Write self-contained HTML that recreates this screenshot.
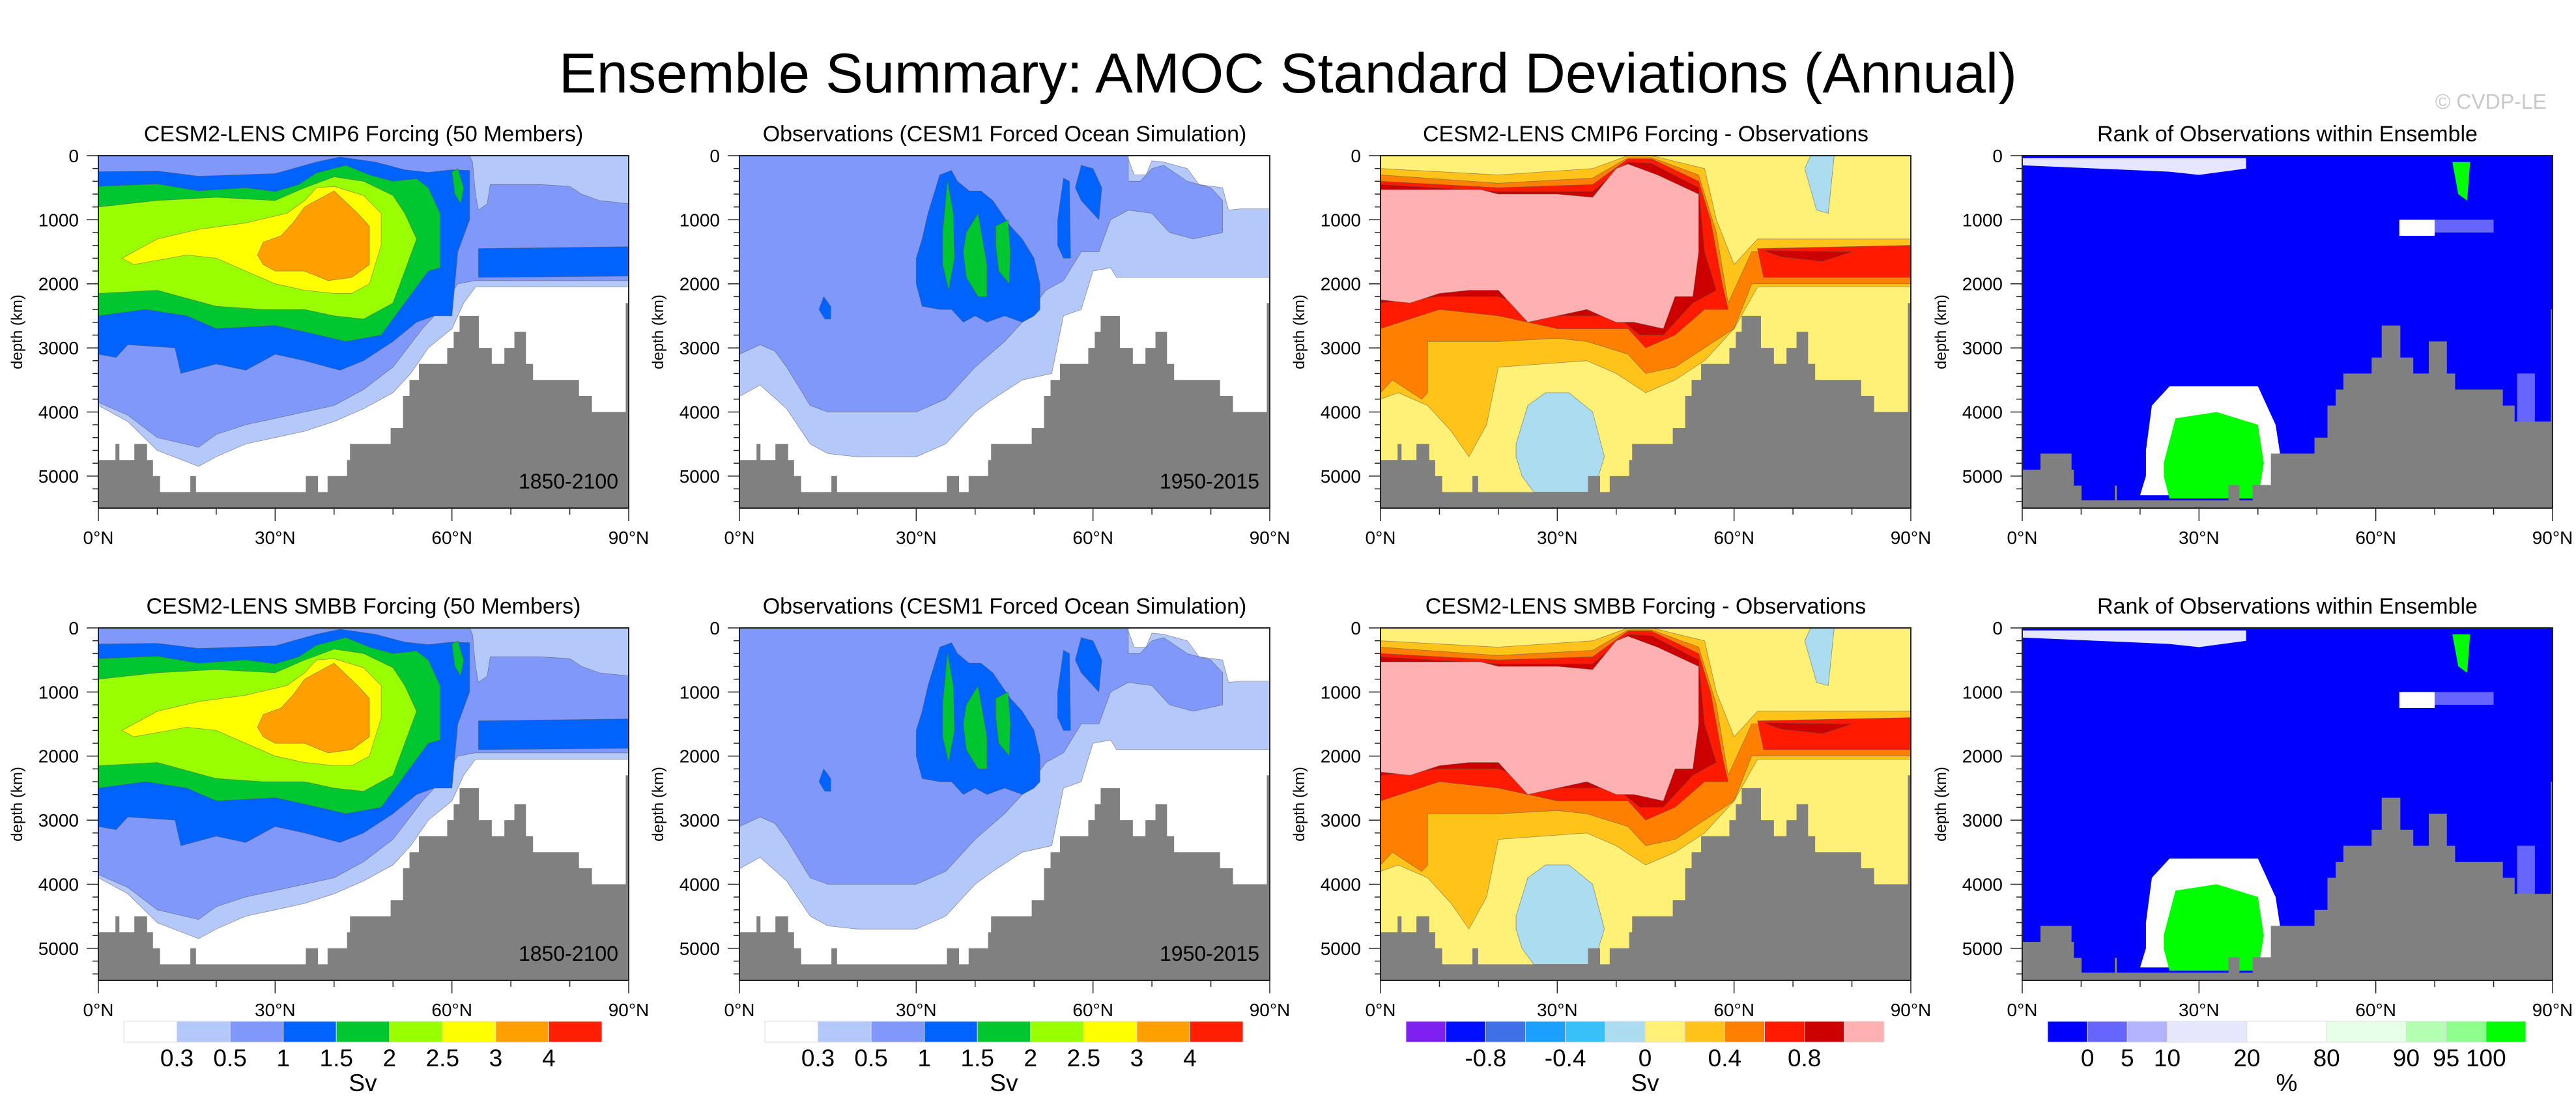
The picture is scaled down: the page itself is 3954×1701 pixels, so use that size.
<!DOCTYPE html>
<html><head><meta charset="utf-8"><title>Ensemble Summary: AMOC Standard Deviations (Annual)</title>
<style>
html,body{margin:0;padding:0;background:#fff;}
svg{display:block;font-family:"Liberation Sans",Arial,sans-serif;}
</style></head>
<body>
<svg id="fig" width="3954" height="1701" viewBox="0 0 3954 1701" xmlns="http://www.w3.org/2000/svg">
<rect x="0" y="0" width="3954" height="1701" fill="#fff"/>
<text x="1977" y="142" font-size="86" text-anchor="middle" textLength="2238" lengthAdjust="spacingAndGlyphs">Ensemble Summary: AMOC Standard Deviations (Annual)</text>
<text x="3909" y="167" font-size="32" text-anchor="end" fill="#c8c8c8">© CVDP-LE</text>
</svg>
<script>
// ---------------- data ----------------
const panelTitles = [
  ["CESM2-LENS CMIP6 Forcing (50 Members)","Observations (CESM1 Forced Ocean Simulation)","CESM2-LENS CMIP6 Forcing - Observations","Rank of Observations within Ensemble"],
  ["CESM2-LENS SMBB Forcing (50 Members)","Observations (CESM1 Forced Ocean Simulation)","CESM2-LENS SMBB Forcing - Observations","Rank of Observations within Ensemble"]
];
const periodLabels = ["1850-2100","1950-2015","",""];
const depthTicks = [0,1000,2000,3000,4000,5000];
const latTicks = [0,30,60,90];
const latTickLabels = ["0°N","30°N","60°N","90°N"];

// bathymetry (lat edges, depth per segment) for model/obs grid
const bathEdges = [0,2.9,3.5,6.1,8.2,9.2,10.4,15.6,16.5,35.2,37.2,38.9,42.2,42.7,49.6,51.7,52.8,54.4,59.2,60.3,61.3,64.5,66.7,68.9,70.6,72.5,73.7,81.5,83.7,89.5,90];
const bathDepths = [4750,4500,4750,4500,4750,5000,5250,5000,5250,5000,5250,5000,4750,4500,4250,3750,3500,3250,3000,2750,2500,3000,3250,3000,2750,3250,3500,3750,4000,2300];
// bathymetry for rank panel grid
const bathEdgesRank = [0,3.1,8.3,8.7,10.0,15.7,16.0,35.0,36.8,39.1,42.2,49.6,51.8,53.2,54.5,59.3,61.0,64.1,66.3,69.0,72.0,73.4,81.5,83.5,89.7,90];
const bathDepthsRank = [4900,4650,4900,5150,5380,5150,5380,5140,5380,5140,4650,4400,3900,3650,3400,3150,2650,3150,3400,2900,3400,3650,3900,4150,2400];

// contour regions [lat, depth]
const p1LightBlue = [[0,0],[90,0],[90,2050],[64,2050],[62,2300],[60,2700],[56,3000],[53,3400],[50,3700],[45,3950],[40,4150],[35,4300],[30,4400],[25,4500],[20,4700],[17,4850],[10,4600],[5,4150],[0,3900]];
const p1MedBlue = [[0,0],[63,0],[63.5,100],[64,600],[64.5,850],[66,750],[66.5,450],[75,450],[80,480],[82,600],[85,700],[90,750],[90,1950],[64,1950],[61,2000],[58,2400],[55,2700],[50,3300],[45,3650],[40,3900],[30,4100],[25,4200],[20,4350],[17,4550],[10,4400],[5,4050],[0,3850]];
const p1DarkBand = [[64.5,1450],[90,1420],[90,1880],[64.5,1900]];
const p1DarkBlue = [[0,250],[10,240],[17,320],[30,280],[37,100],[41,20],[47,100],[52,220],[56,260],[60,220],[63,230],[63,1000],[61,1500],[60,2500],[57,2500],[54,2600],[50,2900],[45,3200],[41,3350],[35,3200],[30,3100],[25,3350],[20,3250],[14,3400],[13,3000],[5,2950],[3,3150],[0,3100]];
const p1Green = [[0,480],[10,440],[17,550],[25,500],[30,560],[34,450],[37,270],[42,150],[46,300],[50,400],[54,360],[56,500],[58,900],[58,1750],[56,1800],[52,2300],[48,2800],[42,2900],[35,2750],[30,2650],[20,2700],[15,2500],[8,2400],[0,2500]];
const p1GreenBlob = [[60,250],[61,200],[62,500],[61.5,750],[60.5,600]];
const p1LightGreen = [[0,800],[10,700],[20,650],[30,700],[35,500],[38,400],[40,330],[45,400],[50,620],[52,900],[54,1300],[52,1800],[50,2300],[45,2550],[40,2500],[35,2400],[28,2400],[20,2350],[10,2100],[0,2150]];
const p1Yellow = [[4,1600],[10,1300],[17,1150],[25,1050],[32,900],[35,700],[37,500],[40,480],[45,620],[48,900],[48,1400],[46,2000],[43,2150],[40,2150],[35,2100],[30,2000],[25,1800],[20,1600],[15,1550],[6,1700]];
const p1Orange = [[27,1550],[28,1350],[31,1250],[33,1050],[35,800],[37,700],[40,550],[44,900],[46,1100],[46,1700],[43,1900],[39,1950],[35,1800],[30,1800],[28,1700]];

const p2LightBlue = [[0,0],[65,0],[66,50],[67,300],[69,300],[70,80],[72,100],[76,200],[78,450],[82,500],[83,850],[85,830],[90,830],[90,1900],[64,1900],[63,1750],[60,1800],[58,2400],[55,2500],[53,3400],[48,3500],[43,3800],[40,4000],[35,4500],[30,4700],[20,4700],[15,4650],[12,4500],[8,3950],[3.5,3580],[0,3760]];
const p2MedBlue = [[0,0],[66,0],[66,400],[68,400],[70,200],[72,150],[76,400],[80,500],[82,700],[82,1200],[77,1300],[73,1200],[70,900],[66,850],[63,1000],[61,1500],[58,1500],[55,1950],[52,2100],[48,2600],[45,2900],[40,3300],[35,3800],[30,4000],[15,4000],[12,3900],[8,3300],[6,3050],[3.5,2950],[0,3100]];
const p2DarkBlob = [[30,1600],[31,1300],[32,900],[34,300],[36,230],[37,400],[39,550],[41,550],[43,700],[46,1100],[48,1300],[50,1600],[51,2000],[51,2400],[50,2500],[48,2600],[45,2500],[42,2600],[40,2500],[38,2600],[36,2400],[34,2400],[31,2350],[30,2000]];
const p2DarkBlob2 = [[54,1000],[55,350],[56,400],[56.2,1600],[55,1600],[54,1400]];
const p2DarkBlob3 = [[57,500],[58,150],[60,200],[61.5,500],[61,1000],[60,900],[58,700]];
const p2DarkBlob4 = [[13.5,2400],[14.3,2200],[15.5,2350],[15.5,2550],[14.5,2550]];
const p2Green1 = [[34.5,1200],[35.3,380],[36.3,900],[36.5,1600],[35.5,2100],[34.5,1700]];
const p2Green2 = [[38.5,1200],[40.5,900],[42,1700],[42,2200],[40.5,2200],[38.5,1900],[38,1500]];
const p2Green3 = [[43.5,1100],[45.6,1000],[46,1500],[45.8,2000],[44,1800],[43.5,1400]];

const p3LightOrange = [[0,200],[20,300],[36,200],[42,0],[46,0],[55,200],[57,1000],[60,1700],[64,1300],[90,1300],[90,2050],[64,2050],[60,2700],[55,3200],[50,3500],[45,3700],[40,3400],[35,3200],[20,3300],[18,4200],[15,4700],[12,4300],[8,3900],[3,3700],[0,3800]];
const p3Orange = [[0,300],[20,430],[36,350],[42,30],[46,30],[54,300],[57,1200],[59,2300],[63,1500],[90,1400],[90,2000],[63,2000],[60,2700],[55,3000],[50,3300],[45,3400],[42,3100],[35,2900],[30,2850],[20,2900],[8,2900],[8,3700],[7,3800],[2,3500],[0,3700]];
const p3Red = [[0,400],[20,500],[36,450],[42,50],[46,50],[54,400],[56,1000],[58,2000],[59,2400],[55,2400],[50,2800],[45,3000],[42,2700],[30,2700],[20,2500],[10,2400],[0,2700]];
const p3RedBand = [[64,1450],[90,1400],[90,1900],[65,1900]];
const p3DarkRed = [[0,450],[20,560],[36,560],[42,100],[46,120],[54,500],[55,1500],[57,2100],[53,2300],[48,2800],[44,2800],[40,2500],[30,2500],[20,2200],[10,2200],[0,2300]];
const p3DarkRedBand = [[65,1480],[80,1500],[75,1650],[68,1580]];
const p3Pink = [[0,530],[17,530],[20,600],[30,600],[36,650],[40,200],[42,130],[47,300],[54,600],[54,1500],[53,2200],[50,2200],[48,2700],[43,2600],[40,2600],[35,2400],[25,2600],[20,2100],[15,2100],[10,2150],[5,2300],[0,2250]];
const p3BlueBlob = [[23,4500],[25,3900],[28,3700],[32,3700],[36,4000],[38,4700],[37,5000],[36,5250],[26,5250],[24,5000],[23,4700]];
const p3BlueTop = [[73,0],[77,0],[76,900],[74,850],[72,200]];

const p4Lavender = [[0,40],[38,40],[38,200],[30,300],[25,250],[0,150]];
const p4WhiteBlob = [[21,4600],[22,3900],[25,3600],[40,3600],[43,4200],[44,4800],[42,5300],[20,5300],[21,5000]];
const p4GreenBlob = [[24,4800],[26,4100],[33,4000],[40,4200],[41,4800],[40,5350],[25,5350],[24,5000]];
const p4WhiteTop = [[64,1000],[70,1000],[70,1250],[64,1250]];
const p4MidTop = [[70,1000],[80,1000],[80,1200],[70,1200]];
const p4GreenTop = [[73,100],[76,100],[75.5,700],[74,600]];
const p4MidRight = [[84,3400],[87,3400],[87,4500],[84,4500]];

const panelLayers = [
  [["#b4c8fa",p1LightBlue],["#8098fa",p1MedBlue],["#0063ff",p1DarkBand],["#0063ff",p1DarkBlue],["#00c730",p1Green],["#00c730",p1GreenBlob],["#99ff00",p1LightGreen],["#ffff00",p1Yellow],["#ff9f00",p1Orange]],
  [["#b4c8fa",p2LightBlue],["#8098fa",p2MedBlue],["#0063ff",p2DarkBlob],["#0063ff",p2DarkBlob2],["#0063ff",p2DarkBlob3],["#0063ff",p2DarkBlob4],["#00c730",p2Green1],["#00c730",p2Green2],["#00c730",p2Green3]],
  [["#ffc31a",p3LightOrange],["#ff8000",p3Orange],["#ff1a00",p3Red],["#ff1a00",p3RedBand],["#cc0000",p3DarkRed],["#cc0000",p3DarkRedBand],["#ffb0b0",p3Pink],["#acdcf0",p3BlueBlob],["#acdcf0",p3BlueTop]],
  [["#e6e6ff",p4Lavender],["#ffffff",p4WhiteBlob],["#00ff00",p4GreenBlob],["#ffffff",p4WhiteTop],["#6666ff",p4MidTop],["#00ff00",p4GreenTop],["#6666ff",p4MidRight]]
];
const panelBg = ["#ffffff","#ffffff","#fff176","#0000ff"];

// colorbars
const cb1Colors = ["#ffffff","#b4c8fa","#8098fa","#0063ff","#00c730","#99ff00","#ffff00","#ff9f00","#ff1e00"];
const cb1Labels = ["0.3","0.5","1","1.5","2","2.5","3","4"];
const cb3Colors = ["#8020f0","#0010ff","#4070e8","#1ba0ff","#38c0f8","#acdcf0","#fff176","#ffc31a","#ff8000","#ff1a00","#cc0000","#ffb0b0"];
const cb3Labels = ["-0.8","-0.4","0","0.4","0.8"];
const cb4Colors = ["#0000ff","#6666ff","#b3b3ff","#e6e6ff","#ffffff","#e6ffe6","#b3ffb3","#8cff8c","#00ff00"];
const cb4Widths = [1,1,1,2,2,2,1,1,1];
const cb4Labels = ["0","5","10","20","80","90","95","100"];

// ---------------- drawing ----------------
const NS = "http://www.w3.org/2000/svg";
const svg = document.getElementById("fig");
const colLeft = [151,1135,2119,3104];
const rowTop = [239,964];
const PW = 814, PH = 541, DMAX = 5500;

function mk(tag, attrs, parent){
  const e = document.createElementNS(NS, tag);
  for (const k in attrs) e.setAttribute(k, attrs[k]);
  (parent||svg).appendChild(e);
  return e;
}

function drawPanel(r, c){
  const L = colLeft[c], T = rowTop[r];
  const xs = lat => L + lat/90*PW;
  const ys = d => T + d/DMAX*PH;
  const g = mk("g", {});
  
  
  const clipId = "clip"+r+c;
  const cp = mk("clipPath", {id:clipId}, g);
  mk("rect", {x:L,y:T,width:PW,height:PH}, cp);
  const plot = mk("g", {"clip-path":"url(#"+clipId+")"}, g);
  const bg = mk("rect", {x:L,y:T,width:PW,height:PH,fill:panelBg[c]}, plot);
  
  
  panelLayers[c].forEach((layer, i) => {
    const pts = layer[1].map(p => xs(p[0]).toFixed(1)+","+ys(p[1]).toFixed(1)).join(" ");
    const poly = mk("polygon", {points:pts, fill:layer[0], stroke: c===3 ? "none" : "#555", "stroke-width": c===3 ? 0 : 0.8, "stroke-opacity":0.6}, plot);
    
    
  });
  const edges = c===3 ? bathEdgesRank : bathEdges;
  const depths = c===3 ? bathDepthsRank : bathDepths;
  for (let i=0;i<depths.length;i++){
    const x0 = xs(edges[i]), x1 = xs(edges[i+1]);
    const br = mk("rect", {x:x0, y:ys(depths[i]), width:(x1-x0+0.6), height:(ys(DMAX)-ys(depths[i])+1), fill:"#808080"}, plot);
    
    
  }
  const fr = mk("rect", {x:L,y:T,width:PW,height:PH,fill:"none",stroke:"#222","stroke-width":2}, g);
  
  
  // y ticks
  for (let d=0; d<=DMAX; d+=200){
    const major = d%1000===0;
    mk("line", {x1:L, x2:L-(major?18:9), y1:ys(d), y2:ys(d), stroke:"#222","stroke-width":1.5}, g);
  }
  depthTicks.forEach(d => {
    const t = mk("text", {x:L-30, y:ys(d)+10, "font-size":28, "text-anchor":"end"}, g);
    t.textContent = d;
    
    
  });
  // x ticks
  for (let lat=0; lat<=90; lat+=10){
    const major = lat%30===0;
    mk("line", {x1:xs(lat), x2:xs(lat), y1:T+PH, y2:T+PH+(major?20:10), stroke:"#222","stroke-width":1.5}, g);
  }
  latTicks.forEach((lat,i) => {
    const t = mk("text", {x:xs(lat), y:T+PH+55, "font-size":28, "text-anchor":"middle"}, g);
    t.textContent = latTickLabels[i];
    
    
  });
  // axis title
  const yt = mk("text", {x:0,y:0,"font-size":24,"text-anchor":"middle",transform:"translate("+(L-117)+","+(T+PH/2)+") rotate(-90)"}, g);
  yt.textContent = "depth (km)";
  
  
  // title
  const tt = mk("text", {x:L+PW/2, y:T-22, "font-size":34, "text-anchor":"middle"}, g);
  tt.textContent = panelTitles[r][c];
  
  
  if (periodLabels[c]){
    const pl = mk("text", {x:L+PW-16, y:T+PH-30, "font-size":32, "text-anchor":"end"}, g);
    pl.textContent = periodLabels[c];
    
    
  }
}

function drawColorbar(c, colors, widths, labels, unit, labelAtBoundary){
  const L = colLeft[c] + 39, W = 734, Y = 1568, Hb = 32;
  const g = mk("g", {});
  
  
  const tot = widths.reduce((a,b)=>a+b,0);
  let x = L; const bounds = [];
  colors.forEach((col,i) => {
    const w = widths[i]/tot*W;
    const b = mk("rect", {x:x, y:Y, width:w, height:Hb, fill:col, stroke:"#ddd","stroke-width":1}, g);
    
    
    x += w; bounds.push(x);
  });
  labels.forEach((lab,i) => {
    const bx = bounds[labelAtBoundary(i)];
    const t = mk("text", {x:bx, y:1637, "font-size":37, "text-anchor":"middle"}, g);
    t.textContent = lab;
    
    
  });
  const u = mk("text", {x:L+W/2, y:1675, "font-size":37, "text-anchor":"middle"}, g);
  u.textContent = unit;
  
  
}

for (let r=0;r<2;r++) for (let c=0;c<4;c++) drawPanel(r,c);
drawColorbar(0, cb1Colors, cb1Colors.map(()=>1), cb1Labels, "Sv", i=>i);
drawColorbar(1, cb1Colors, cb1Colors.map(()=>1), cb1Labels, "Sv", i=>i);
drawColorbar(2, cb3Colors, cb3Colors.map(()=>1), cb3Labels, "Sv", i=>1+2*i);
drawColorbar(3, cb4Colors, cb4Widths, cb4Labels, "%", i=>i);
</script>
</body></html>
